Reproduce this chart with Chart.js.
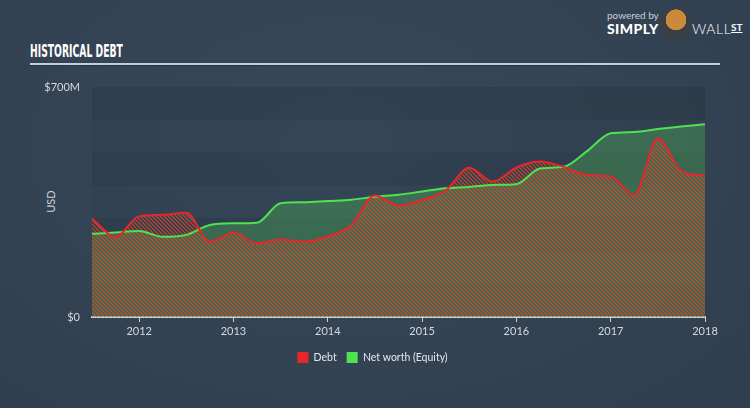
<!DOCTYPE html>
<html lang="en">
<head>
<meta charset="UTF-8">
<title>Historical Debt</title>
<script src="https://cdn.jsdelivr.net/npm/chart.js"></script>
<style>
  html, body { margin: 0; padding: 0; }
  body {
    width: 750px; height: 408px; position: relative; overflow: hidden;
    background: radial-gradient(ellipse at 45% 35%, #36485a 0%, #334354 55%, #2f3e4e 100%);
    font-family: Lato, sans-serif;
  }
  #chart { position: absolute; left: 0; top: 0; }
  .title {
    position: absolute; left: 30px; top: 40px; color: #fff;
    font: bold 18px "Liberation Sans Narrow", "DejaVu Sans Condensed", sans-serif;
    transform: scaleX(0.57); transform-origin: left top; white-space: nowrap;
  }
  .rule { position: absolute; left: 30px; top: 63px; width: 690px; height: 2px;
    background: #c5cfd9; border-bottom: 1px solid #26323f; }
  .usd { position: absolute; left: 39px; top: 195px; color: #c9d0d8; font-size: 11px;
    transform: rotate(-90deg); transform-origin: center; }
  .logo { position: absolute; left: 607px; top: 8px; color: #fff; white-space: nowrap; }
  .logo .pb { font-size: 10px; color: #c9d0d8; position: absolute; left: 0; top: 1px; }
  .logo .simply { font: 900 14px Lato, sans-serif; letter-spacing: 0.4px; position: absolute; left: 0; top: 12px; }
  .logo .icon { position: absolute; left: 54px; top: 0px; width: 30px; height: 31px; border-radius: 50% 50% 45% 45%;
    background: radial-gradient(circle at 50% 38%, #c98a3a 0 42%, #3a3f46 43% 100%); }
  .logo .wall { font: 300 14px Lato, sans-serif; letter-spacing: 0.6px; position: absolute; left: 85px; top: 12px; }
  .logo .st { font: bold 10px Lato, sans-serif; text-decoration: underline; position: absolute; left: 124px; top: 13px; }
</style>
</head>
<body>
<div class="title">HISTORICAL DEBT</div>
<div class="rule"></div>
<div class="usd">USD</div>
<div class="logo">
  <span class="pb">powered by</span>
  <span class="simply">SIMPLY</span>
  <span class="icon"></span>
  <span class="wall">WALL</span>
  <span class="st">ST</span>
</div>
<canvas id="chart" width="750" height="408"></canvas>
<script>
// quarterly points, mid 2011 to start of 2018
const quarters = [2011.5, 2011.75, 2012, 2012.25, 2012.5, 2012.75, 2013, 2013.25, 2013.5, 2013.75,
  2014, 2014.25, 2014.5, 2014.75, 2015, 2015.25, 2015.5, 2015.75, 2016, 2016.25, 2016.5, 2016.75,
  2017, 2017.25, 2017.5, 2017.75, 2018];
// values in $M
const debt = [300, 244, 307, 311, 317, 229, 257, 224, 236, 229,
  245, 280, 370, 338, 356, 385, 454, 412, 455, 473, 457, 432,
  428, 371, 544, 445, 430];
const equity = [253, 257, 262, 244, 250, 280, 285, 287, 346, 349,
  353, 357, 366, 372, 382, 392, 396, 402, 404, 452, 457, 505,
  559, 563, 572, 580, 587];
const xTicks = [2012, 2013, 2014, 2015, 2016, 2017, 2018];
const yTicks = [0, 100, 200, 300, 400, 500, 600, 700];
const yTickLabels = { 0: '$0', 700: '$700M' };

const debtColor = '#e8262a';
const equityColor = '#4fe34f';

function hatch(color) {
  const c = document.createElement('canvas');
  c.width = 4; c.height = 4;
  const g = c.getContext('2d');
  g.strokeStyle = color;
  g.lineWidth = 1.2;
  g.beginPath();
  g.moveTo(0, 0); g.lineTo(4, 4);
  g.moveTo(-1, 3); g.lineTo(1, 5);
  g.moveTo(3, -1); g.lineTo(5, 1);
  g.stroke();
  return g.createPattern(c, 'repeat');
}

const bands = {
  id: 'bands',
  beforeDraw(chart) {
    const { ctx, chartArea: a, scales: { y } } = chart;
    ctx.save();
    for (let i = 0; i < yTicks.length - 1; i++) {
      const top = y.getPixelForValue(yTicks[i + 1]);
      const bot = y.getPixelForValue(yTicks[i]);
      ctx.fillStyle = (yTicks.length - 2 - i) % 2 === 0 ? 'rgba(20,30,40,0.16)' : 'rgba(20,30,40,0.05)';
      ctx.fillRect(a.left, top, a.width, bot - top);
    }
    ctx.restore();
  }
};

// the legend sits centred on the page, not on the plot
const legendShift = {
  id: 'legendShift',
  afterLayout(chart) {
    chart.legend.left += 20;
    chart.legend.right += 20;
  }
};

const ctx = document.getElementById('chart').getContext('2d');
new Chart(ctx, {
  type: 'line',
  data: {
    datasets: [
      {
        label: 'Debt',
        data: quarters.map((x, i) => ({ x: x, y: debt[i] })),
        borderColor: debtColor,
        backgroundColor: hatch('rgba(214,74,46,0.9)'),
        borderWidth: 2,
        fill: 'origin',
        pointRadius: 0,
        cubicInterpolationMode: 'monotone'
      },
      {
        label: 'Net worth (Equity)',
        data: quarters.map((x, i) => ({ x: x, y: equity[i] })),
        borderColor: equityColor,
        backgroundColor: 'rgba(76,166,86,0.42)',
        borderWidth: 2,
        fill: 'origin',
        pointRadius: 0,
        cubicInterpolationMode: 'monotone'
      }
    ]
  },
  options: {
    responsive: false,
    animation: false,
    layout: { padding: { left: 0, right: 45, top: 87, bottom: 35 } },
    scales: {
      x: {
        type: 'linear',
        min: 2011.5,
        max: 2018,
        afterBuildTicks: axis => { axis.ticks = xTicks.map(v => ({ value: v })); },
        afterFit: axis => { axis.height = 25; },
        grid: { drawOnChartArea: false, drawTicks: true, tickLength: 5, color: '#c8d0d8' },
        border: { display: true, color: '#c8d0d8', width: 2 },
        ticks: { color: '#d3d9df', font: { family: 'Lato', size: 11 }, padding: 3, maxRotation: 0,
          callback: v => String(v) }
      },
      y: {
        min: 0,
        max: 700,
        afterBuildTicks: axis => { axis.ticks = yTicks.map(v => ({ value: v })); },
        afterFit: axis => { axis.width = 92; },
        grid: { display: false, drawTicks: false },
        border: { display: false },
        ticks: { color: '#d3d9df', font: { family: 'Lato', size: 11 }, padding: 12,
          callback: v => yTickLabels[v] || '' }
      }
    },
    plugins: {
      filler: { drawTime: 'beforeDatasetsDraw' },
      tooltip: { enabled: false },
      legend: {
        position: 'bottom',
        labels: {
          color: '#e3e8ec',
          font: { family: 'Lato', size: 10.5 },
          boxWidth: 11,
          boxHeight: 11,
          padding: 10,
          generateLabels: chart => chart.data.datasets.map((d, i) => ({
            text: d.label,
            fillStyle: i === 0 ? debtColor : equityColor,
            strokeStyle: i === 0 ? debtColor : equityColor,
            lineWidth: 0,
            datasetIndex: i,
            fontColor: '#e3e8ec'
          }))
        }
      }
    }
  },
  plugins: [bands, legendShift]
});
</script>
</body>
</html>
